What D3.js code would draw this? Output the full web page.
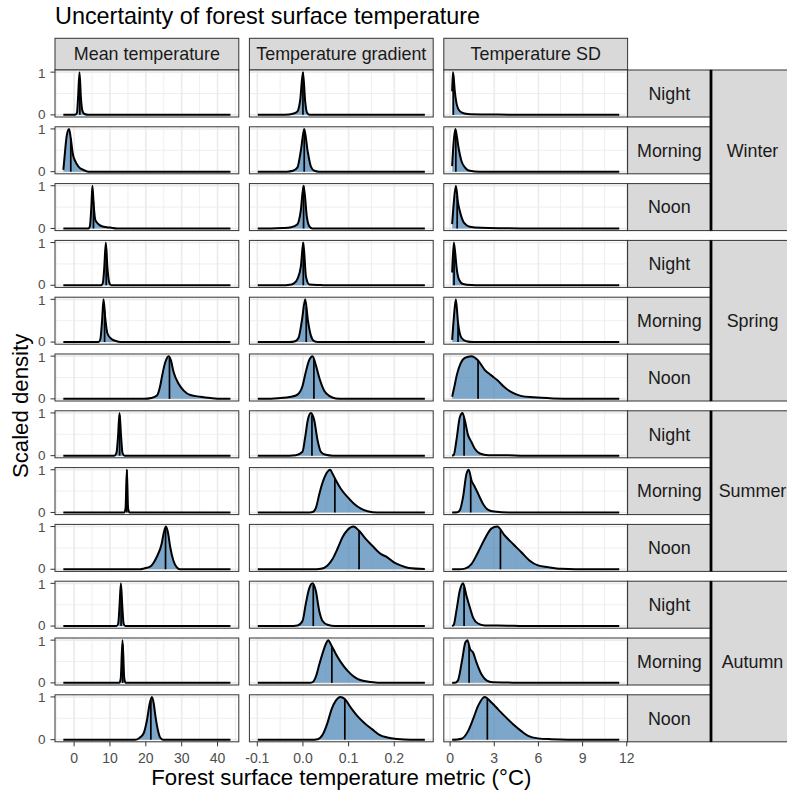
<!DOCTYPE html>
<html>
<head>
<meta charset="utf-8">
<script src="https://cdn.jsdelivr.net/npm/d3@7"></script>
<style>
  body { margin: 0; background: #fff; }
  svg text { font-family: "Liberation Sans", Arial, sans-serif; }
</style>
</head>
<body>
<svg id="chart" width="787" height="793"></svg>
<script>
const metrics = ["Mean temperature", "Temperature gradient", "Temperature SD"];
const seasons = ["Winter", "Spring", "Summer", "Autumn"];
const times = ["Night", "Morning", "Noon"];

const meanTicks = [0, 10, 20, 30, 40];
const meanTickLabels = ["0", "10", "20", "30", "40"];
const gradientTicks = [-0.1, 0, 0.1, 0.2];
const gradientTickLabels = ["-0.1", "0.0", "0.1", "0.2"];
const sdTicks = [0, 3, 6, 9, 12];
const sdTickLabels = ["0", "3", "6", "9", "12"];

// row order: Winter Night, Winter Morning, Winter Noon, Spring Night, ... Autumn Noon
const meanMedians = [1.6, -0.93, 5.4, 8.96, 8.5, 26.6, 12.7, 14.7, 25.5, 13.1, 13.55, 21.4];
const gradientMedians = [0.0, 0.0028, 0.0014, 0.0007, 0.0072, 0.024, 0.0197, 0.0699, 0.1229, 0.0226, 0.0633, 0.0917];
const sdMedians = [0.22, 0.39, 0.48, 0.27, 0.54, 1.9, 0.95, 1.4, 3.42, 0.95, 1.29, 2.53];

// scaled density curves, [value, density]
const meanCurves = [
  [[-3,0],[0.3,0],[0.8,0.05],[1.1,0.4],[1.5,1],[1.9,0.4],[2.3,0.1],[2.9,0.02],[4,0],[43.6,0]],
  [[-3,0.04],[-2.5,0.5],[-2.05,0.85],[-1.4,1],[-0.93,0.78],[-0.37,0.42],[0.28,0.25],[1.21,0.12],[2.61,0.04],[4,0],[43.6,0]],
  [[-3,0],[4,0],[4.4,0.05],[4.8,0.5],[5.1,1],[5.5,0.5],[5.9,0.2],[6.8,0.1],[8.2,0.04],[10.1,0.02],[12,0],[43.6,0]],
  [[-3,0],[7.5,0],[8.0,0.05],[8.4,0.4],[8.85,1],[9.3,0.4],[9.8,0.06],[10.3,0],[43.6,0]],
  [[-3,0],[6.8,0],[7.3,0.06],[7.8,0.5],[8.2,1],[8.7,0.55],[9.3,0.2],[10.3,0.08],[11.5,0.03],[13,0],[43.6,0]],
  [[-3,0],[19.5,0],[21.5,0.02],[23.1,0.08],[24.0,0.3],[24.5,0.52],[25.4,0.85],[26.35,1],[27.0,0.9],[27.7,0.64],[29.1,0.36],[30.5,0.2],[32.4,0.09],[35.2,0.05],[38,0.02],[41,0],[43.6,0]],
  [[-3,0],[11.2,0],[11.8,0.06],[12.25,0.45],[12.66,1],[13.1,0.45],[13.5,0.06],[14.1,0],[43.6,0]],
  [[-3,0],[14.0,0],[14.35,0.1],[14.7,1],[15.05,0.1],[15.4,0],[43.6,0]],
  [[-3,0],[18.5,0],[19.5,0.02],[21.2,0.06],[23.0,0.28],[24.4,0.59],[25.0,0.85],[25.6,1],[26.2,0.85],[26.8,0.52],[27.7,0.2],[28.6,0.05],[29.5,0],[43.6,0]],
  [[-3,0],[11.8,0],[12.3,0.06],[12.65,0.45],[13.05,1],[13.45,0.45],[13.8,0.06],[14.3,0],[43.6,0]],
  [[-3,0],[12.6,0],[13.0,0.1],[13.5,1],[14.0,0.1],[14.4,0],[43.6,0]],
  [[-3,0],[17,0],[18.2,0.04],[19.4,0.15],[20.3,0.45],[21.1,0.85],[21.7,1],[22.2,0.85],[22.6,0.6],[23.3,0.25],[24.0,0.05],[24.8,0],[43.6,0]]
];

const gradientCurves = [
  [[-0.099,0],[-0.04,0],[-0.02,0.03],[-0.012,0.08],[-0.006,0.35],[0.0,1],[0.005,0.3],[0.009,0.05],[0.015,0],[0.267,0]],
  [[-0.099,0],[-0.035,0],[-0.022,0.02],[-0.012,0.1],[-0.0045,0.5],[0.0028,1],[0.010,0.5],[0.0174,0.12],[0.025,0.02],[0.035,0],[0.267,0]],
  [[-0.099,0],[-0.07,0],[-0.045,0.01],[-0.026,0.03],[-0.012,0.1],[-0.005,0.4],[0.0014,1],[0.0088,0.25],[0.014,0.05],[0.021,0],[0.267,0]],
  [[-0.099,0],[-0.05,0],[-0.025,0.02],[-0.0192,0.05],[-0.012,0.15],[-0.0045,0.45],[0.0007,1],[0.0066,0.2],[0.014,0.02],[0.04,0.005],[0.05,0],[0.267,0]],
  [[-0.099,0],[-0.03,0],[-0.017,0.02],[-0.0096,0.1],[-0.0023,0.5],[0.005,1],[0.0109,0.5],[0.0174,0.15],[0.0247,0.02],[0.032,0],[0.267,0]],
  [[-0.099,0],[-0.07,0.005],[-0.055,0.015],[-0.026,0.05],[-0.012,0.1],[-0.001,0.3],[0.006,0.62],[0.0134,0.9],[0.021,1],[0.028,0.8],[0.0356,0.5],[0.0466,0.19],[0.0575,0.07],[0.072,0.01],[0.09,0],[0.267,0]],
  [[-0.099,0],[-0.03,0],[-0.0154,0.01],[-0.001,0.09],[0.005,0.44],[0.0105,0.83],[0.0175,1],[0.0247,0.83],[0.032,0.36],[0.0393,0.09],[0.05,0.02],[0.065,0],[0.267,0]],
  [[-0.099,0],[0.015,0],[0.0214,0.01],[0.0287,0.12],[0.036,0.44],[0.0433,0.71],[0.0506,0.9],[0.0596,1],[0.0651,0.9],[0.0724,0.75],[0.0833,0.55],[0.0979,0.36],[0.1124,0.2],[0.127,0.09],[0.1415,0.03],[0.163,0],[0.267,0]],
  [[-0.099,0],[0.03,0],[0.0393,0.01],[0.0539,0.09],[0.0648,0.24],[0.0757,0.48],[0.0866,0.75],[0.0976,0.92],[0.1105,1],[0.1229,0.9],[0.1375,0.71],[0.152,0.55],[0.1703,0.36],[0.1848,0.28],[0.1994,0.16],[0.214,0.09],[0.2322,0.03],[0.267,0.005]],
  [[-0.099,0],[-0.03,0],[-0.012,0.015],[-0.001,0.12],[0.0062,0.52],[0.0134,0.87],[0.021,1],[0.028,0.83],[0.0356,0.36],[0.0429,0.12],[0.054,0.03],[0.07,0],[0.267,0]],
  [[-0.099,0],[0.015,0],[0.0214,0.02],[0.0287,0.16],[0.036,0.44],[0.0447,0.75],[0.0506,0.92],[0.0552,1],[0.0626,0.87],[0.0724,0.67],[0.0833,0.48],[0.0979,0.28],[0.1124,0.14],[0.127,0.06],[0.1488,0.02],[0.178,0],[0.267,0]],
  [[-0.099,0],[0.025,0],[0.0323,0.01],[0.0433,0.12],[0.0539,0.4],[0.0626,0.71],[0.0724,0.92],[0.0815,1],[0.0917,0.95],[0.1048,0.75],[0.1194,0.55],[0.1375,0.36],[0.152,0.24],[0.1666,0.12],[0.1848,0.05],[0.2067,0.015],[0.236,0],[0.267,0]]
];

const sdCurves = [
  [[0.14,0.55],[0.19,1],[0.25,0.85],[0.32,0.55],[0.43,0.28],[0.55,0.14],[0.77,0.06],[1.2,0.02],[2.1,0.01],[4,0.005],[11.49,0]],
  [[0.14,0.13],[0.22,0.6],[0.36,1],[0.47,0.8],[0.59,0.53],[0.77,0.25],[1.0,0.1],[1.34,0.02],[2,0],[11.49,0]],
  [[0.14,0.1],[0.25,0.6],[0.39,1],[0.54,0.6],[0.72,0.33],[0.95,0.13],[1.34,0.04],[2.13,0.015],[3.7,0.005],[5,0],[11.49,0]],
  [[0.14,0.3],[0.25,1],[0.35,0.75],[0.43,0.45],[0.61,0.13],[0.88,0.03],[1.45,0.005],[2,0],[11.49,0]],
  [[0.14,0.05],[0.25,0.55],[0.39,1],[0.54,0.45],[0.77,0.1],[1.1,0.02],[1.6,0],[11.49,0]],
  [[0.14,0.05],[0.3,0.3],[0.45,0.55],[0.7,0.82],[1.0,0.96],[1.45,1],[1.9,0.9],[2.35,0.68],[2.8,0.55],[3.2,0.44],[3.7,0.27],[4.2,0.15],[4.8,0.07],[5.7,0.035],[7,0.01],[8.5,0],[11.49,0]],
  [[0.14,0],[0.25,0.02],[0.43,0.36],[0.66,0.9],[0.84,1],[1.0,0.83],[1.22,0.48],[1.45,0.32],[1.68,0.16],[2.02,0.05],[2.6,0.01],[3.9,0.008],[5,0],[11.49,0]],
  [[0.14,0],[0.5,0.005],[0.66,0.05],[0.88,0.36],[1.11,0.9],[1.27,1],[1.45,0.75],[1.63,0.63],[1.9,0.44],[2.24,0.2],[2.59,0.06],[3.0,0.02],[4,0],[11.49,0]],
  [[0.14,0],[0.6,0],[1.0,0.015],[1.45,0.12],[1.9,0.4],[2.35,0.71],[2.8,0.95],[3.2,1],[3.71,0.79],[4.28,0.59],[4.84,0.4],[5.41,0.2],[5.97,0.09],[6.65,0.05],[7.56,0.01],[8.5,0],[11.49,0]],
  [[0.14,0],[0.25,0.03],[0.43,0.36],[0.66,0.83],[0.88,1],[1.11,0.71],[1.34,0.44],[1.56,0.2],[1.9,0.06],[2.35,0.015],[3.9,0.008],[5,0],[11.49,0]],
  [[0.14,0],[0.4,0.01],[0.54,0.06],[0.81,0.52],[1.04,0.95],[1.18,1],[1.36,0.79],[1.56,0.71],[1.79,0.48],[2.13,0.2],[2.47,0.06],[2.9,0.015],[3.9,0.008],[5,0],[11.49,0]],
  [[0.14,0],[0.5,0.005],[0.77,0.02],[1.22,0.2],[1.56,0.48],[1.9,0.79],[2.35,1],[2.81,0.87],[3.26,0.71],[3.71,0.55],[4.28,0.36],[4.84,0.2],[5.3,0.09],[5.97,0.03],[6.88,0.01],[8,0],[11.49,0]]
];

const columns = [
  {curves: meanCurves, medians: meanMedians, ticks: meanTicks, labels: meanTickLabels},
  {curves: gradientCurves, medians: gradientMedians, ticks: gradientTicks, labels: gradientTickLabels},
  {curves: sdCurves, medians: sdMedians, ticks: sdTicks, labels: sdTickLabels}
];

// layout
const plotLeft = 55, panelW = 183.8, colGap = 10.6;
const plotTop = 70, panelH = 47, rowGap = 9.8;
const stripH = 31.7, rowStripW = 83.4, seasonStripW = 84;
const gridColor = "#EBEBEB", borderColor = "#333333", stripFill = "#D9D9D9";
const fillColor = "#4682B4";

const colX = j => plotLeft + j * (panelW + colGap);
const rowY = i => plotTop + i * (panelH + rowGap);
const panelsRight = colX(2) + panelW;

const svg = d3.select("#chart");

svg.append("rect").attr("width", 787).attr("height", 793).attr("fill", "#fff");

const y = d3.scaleLinear().domain([-0.05, 1.05]).range([panelH, 0]);

function expandDomain(curves) {
  const ext = d3.extent(curves.flat(), d => d[0]);
  const pad = (ext[1] - ext[0]) * 0.05;
  return [ext[0] - pad, ext[1] + pad];
}

function minorBreaks(ticks, domain) {
  const step = ticks[1] - ticks[0];
  const out = [];
  for (let k = -1; k < ticks.length; k++) {
    const v = ticks[0] + (k + 0.5) * step;
    if (v >= domain[0] && v <= domain[1]) out.push(v);
  }
  return out;
}

function heightAt(curve, v) {
  for (let k = 1; k < curve.length; k++) {
    if (v <= curve[k][0]) {
      const a = curve[k - 1], b = curve[k];
      const t = (v - a[0]) / (b[0] - a[0]);
      return a[1] + t * (b[1] - a[1]);
    }
  }
  return 0;
}

// title
svg.append("text")
  .attr("x", plotLeft).attr("y", 24)
  .attr("font-size", 23.4).attr("fill", "#000")
  .text("Uncertainty of forest surface temperature");

columns.forEach((col, j) => {
  const x = d3.scaleLinear().domain(expandDomain(col.curves)).range([0, panelW]);
  const minors = minorBreaks(col.ticks, x.domain());

  const area = d3.area()
    .x(d => x(d[0])).y0(y(0)).y1(d => y(d[1]))
    .curve(d3.curveMonotoneX);
  const line = d3.line()
    .x(d => x(d[0])).y(d => y(d[1]))
    .curve(d3.curveMonotoneX);

  // column strip
  const strip = svg.append("g").attr("transform", `translate(${colX(j)},${plotTop - stripH})`);
  strip.append("rect")
    .attr("width", panelW).attr("height", stripH)
    .attr("fill", stripFill).attr("stroke", borderColor).attr("stroke-width", 1);
  strip.append("text")
    .attr("x", panelW / 2).attr("y", stripH / 2).attr("dy", "0.35em")
    .attr("text-anchor", "middle").attr("font-size", 17.9).attr("fill", "#1A1A1A")
    .text(metrics[j]);

  col.curves.forEach((curve, i) => {
    const g = svg.append("g").attr("transform", `translate(${colX(j)},${rowY(i)})`);

    g.append("rect").attr("width", panelW).attr("height", panelH).attr("fill", "#fff");

    g.selectAll(".minor-x").data(minors).enter().append("line")
      .attr("x1", d => x(d)).attr("x2", d => x(d))
      .attr("y1", 0).attr("y2", panelH)
      .attr("stroke", gridColor).attr("stroke-width", 0.8);
    g.selectAll(".minor-y").data([0.5]).enter().append("line")
      .attr("x1", 0).attr("x2", panelW)
      .attr("y1", d => y(d)).attr("y2", d => y(d))
      .attr("stroke", gridColor).attr("stroke-width", 0.8);
    g.selectAll(".major-x").data(col.ticks).enter().append("line")
      .attr("x1", d => x(d)).attr("x2", d => x(d))
      .attr("y1", 0).attr("y2", panelH)
      .attr("stroke", gridColor).attr("stroke-width", 1.6);
    g.selectAll(".major-y").data([0, 1]).enter().append("line")
      .attr("x1", 0).attr("x2", panelW)
      .attr("y1", d => y(d)).attr("y2", d => y(d))
      .attr("stroke", gridColor).attr("stroke-width", 1.6);

    g.append("path").datum(curve)
      .attr("d", area).attr("fill", fillColor).attr("fill-opacity", 0.7);
    g.append("path").datum(curve)
      .attr("d", line).attr("fill", "none")
      .attr("stroke", "#000").attr("stroke-width", 2).attr("stroke-linejoin", "round");

    const m = col.medians[i];
    g.append("line")
      .attr("x1", x(m)).attr("x2", x(m))
      .attr("y1", y(0)).attr("y2", y(heightAt(curve, m)))
      .attr("stroke", "#000").attr("stroke-width", 1.7);

    g.append("rect").attr("width", panelW).attr("height", panelH)
      .attr("fill", "none").attr("stroke", borderColor).attr("stroke-width", 1);

    // y axis on first column
    if (j === 0) {
      const ya = g.append("g");
      ya.selectAll("line").data([0, 1]).enter().append("line")
        .attr("x1", -4.5).attr("x2", 0)
        .attr("y1", d => y(d)).attr("y2", d => y(d))
        .attr("stroke", borderColor).attr("stroke-width", 1);
      ya.selectAll("text").data([0, 1]).enter().append("text")
        .attr("x", -9.5).attr("y", d => y(d)).attr("dy", d => d === 0 ? "0.3em" : "0.4em")
        .attr("text-anchor", "end").attr("font-size", 13.5).attr("fill", "#4D4D4D")
        .text(d => d);
    }

    // x axis on bottom row
    if (i === col.curves.length - 1) {
      const xa = g.append("g").attr("transform", `translate(0,${panelH})`);
      xa.selectAll("line").data(col.ticks).enter().append("line")
        .attr("x1", d => x(d)).attr("x2", d => x(d))
        .attr("y1", 0).attr("y2", 4.5)
        .attr("stroke", borderColor).attr("stroke-width", 1);
      xa.selectAll("text").data(col.ticks).enter().append("text")
        .attr("x", d => x(d)).attr("y", 21)
        .attr("text-anchor", "middle").attr("font-size", 14).attr("fill", "#4D4D4D")
        .text((d, k) => col.labels[k]);
    }
  });
});

// time-of-day strips and season strips
seasons.forEach((season, s) => {
  times.forEach((t, k) => {
    const i = s * times.length + k;
    const g = svg.append("g").attr("transform", `translate(${panelsRight},${rowY(i)})`);
    g.append("rect").attr("width", rowStripW).attr("height", panelH)
      .attr("fill", stripFill).attr("stroke", borderColor).attr("stroke-width", 1);
    g.append("text")
      .attr("x", rowStripW / 2).attr("y", panelH / 2).attr("dy", "0.35em")
      .attr("text-anchor", "middle").attr("font-size", 17.9).attr("fill", "#1A1A1A")
      .text(t);
  });

  const top = rowY(s * times.length);
  const bottom = rowY(s * times.length + times.length - 1) + panelH;
  const sx = panelsRight + rowStripW;
  const sg = svg.append("g").attr("transform", `translate(${sx},${top})`);
  sg.append("rect").attr("width", seasonStripW).attr("height", bottom - top)
    .attr("fill", stripFill).attr("stroke", borderColor).attr("stroke-width", 1);
  sg.append("text")
    .attr("x", seasonStripW / 2 - 0.5).attr("y", (bottom - top) / 2).attr("dy", "0.35em")
    .attr("text-anchor", "middle").attr("font-size", 17.9).attr("fill", "#1A1A1A")
    .text(season);
  sg.append("line")
    .attr("x1", 0).attr("x2", 0).attr("y1", 0).attr("y2", bottom - top)
    .attr("stroke", "#000").attr("stroke-width", 2.8);
});

// axis titles
svg.append("text")
  .attr("x", plotLeft + (panelsRight - plotLeft) / 2).attr("y", 784.5)
  .attr("text-anchor", "middle").attr("font-size", 22.2).attr("fill", "#000")
  .text("Forest surface temperature metric (°C)");

svg.append("text")
  .attr("transform", `translate(27.5,${plotTop + (rowY(11) + panelH - plotTop) / 2}) rotate(-90)`)
  .attr("text-anchor", "middle").attr("font-size", 22.2).attr("fill", "#000")
  .text("Scaled density");
</script>
</body>
</html>
